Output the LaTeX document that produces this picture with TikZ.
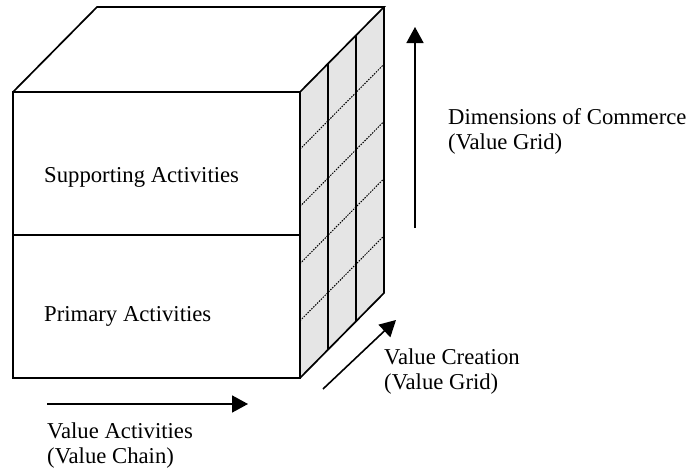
\documentclass[tikz,border=0pt]{standalone}
\usepackage{fontspec}
\setmainfont{Liberation Serif}
\usetikzlibrary{arrows.meta,calc}
\begin{document}
\begin{tikzpicture}[x=1pt,y=-1pt,
  edge/.style={line width=1.7pt, line join=miter},
  gridline/.style={line width=1.3pt},
  dotline/.style={line width=1pt, dash pattern=on 1.5pt off 1.2pt},
  arr/.style={line width=1.6pt, -{Triangle[length=16pt,width=17pt]}},
  lbl/.style={anchor=base west, inner sep=0pt, font=\fontsize{22.7}{25}\selectfont}
]
\useasboundingbox (0,0) rectangle (689,471);
% cube corners
\coordinate (A) at (13,92);
\coordinate (B) at (300,92);
\coordinate (C) at (300,378);
\coordinate (D) at (13,378);
\coordinate (E) at (97,7);
\coordinate (F) at (384,7);
\coordinate (G) at (384,293);
\coordinate (ML) at (13,235);
\coordinate (MR) at (300,235);
% side face
\fill[gray!20] (B) -- (F) -- (G) -- (C) -- cycle;
\draw[gridline] ($(B)!1/3!(F)$) -- ($(C)!1/3!(G)$);
\draw[gridline] ($(B)!2/3!(F)$) -- ($(C)!2/3!(G)$);
\foreach \k in {1,2,3,4}{
  \draw[dotline] ($(B)!\k/5!(C)$) -- ($(F)!\k/5!(G)$);
}
% outline
\draw[edge] (A) rectangle (C);
\draw[edge] (A) -- (E) -- (F) -- (B);
\draw[edge] (F) -- (G) -- (C);
\draw[edge] (ML) -- (MR);
% labels in faces
\node[lbl] (sup) at (44,182) {Supporting Activities};
\node[lbl] (pri) at (44,321) {Primary Activities};
% arrows
\coordinate (v1) at (415,228);
\coordinate (v2) at (415,27);
\coordinate (h1) at (47,404);
\coordinate (h2) at (248,404);
\coordinate (d1) at (323,389);
\coordinate (d2) at (396,320);
\draw[arr] (v1) -- (v2);
\draw[arr] (h1) -- (h2);
\draw[arr] (d1) -- (d2);
% arrow labels
\node[lbl] (dim) at (448,124) {\begin{tabular}[t]{@{}l@{}}Dimensions of Commerce\\(Value Grid)\end{tabular}};
\node[lbl] (cre) at (384,364) {\begin{tabular}[t]{@{}l@{}}Value Creation\\(Value Grid)\end{tabular}};
\node[lbl] (act) at (47,438) {\begin{tabular}[t]{@{}l@{}}Value Activities\\(Value Chain)\end{tabular}};
\end{tikzpicture}
\end{document}
